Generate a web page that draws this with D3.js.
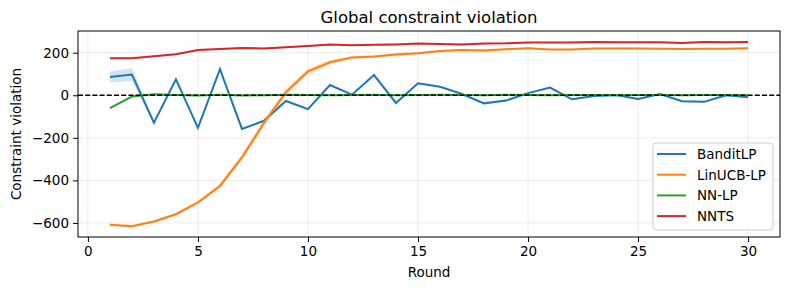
<!DOCTYPE html>
<html>
<head>
  <meta charset="utf-8">
  <title>Global constraint violation</title>
  <script src="https://cdn.jsdelivr.net/npm/d3@7/dist/d3.min.js"></script>
  <style>
    body { margin: 0; background: #fff; }
    text { font-family: "DejaVu Sans", sans-serif; fill: #000; }
  </style>
</head>
<body>
<script>
// rounds 1..30
var rounds = d3.range(1, 31);

var banditLP = [86, 97, -129, 75, -153, 123, -158, -120, -27, -65, 48, 3, 95, -36, 56,
                40, 6, -38, -25, 10, 36, -19, -3, 1, -17, 6, -28, -31, 0, -9];
var linucbLP = [-608, -615, -593, -559, -504, -426, -292, -130, 15, 112, 155, 178, 182, 191, 197,
                208, 213, 210, 216, 221, 215, 215, 220, 220, 220, 219, 218, 219, 219, 221];
var nnLP     = [-60, -6, 5, 1, -1, 2, -1, 0, 3, 1, 0, 1, 2, 0, 1,
                2, 1, 0, 2, 1, 0, 1, 1, 0, 1, 1, 0, 1, 1, 0];
var nnts     = [174, 174, 183, 193, 213, 217, 222, 220, 226, 232, 238, 235, 237, 239, 243,
                241, 239, 243, 244, 248, 248, 248, 250, 249, 249, 249, 246, 250, 249, 250];

// half-widths of the shaded bands
var banditCI = [26, 30, 8, 5, 5, 5, 5, 5, 5, 5, 4, 4, 4, 4, 4, 4, 4, 4, 4, 4, 4, 4, 4, 4, 4, 4, 4, 4, 4, 4];
var linucbCI = [6, 6, 6, 7, 9, 13, 16, 18, 18, 15, 12, 8, 6, 6, 5, 5, 5, 5, 5, 5, 4, 4, 4, 4, 4, 4, 4, 4, 4, 4];
var nnCI     = [4, 3, 3, 3, 3, 3, 3, 3, 3, 3, 3, 3, 3, 3, 3, 3, 3, 3, 3, 3, 3, 3, 3, 3, 3, 3, 3, 3, 3, 3];
var nntsCI   = [4, 4, 4, 4, 4, 4, 4, 4, 4, 4, 4, 4, 4, 4, 4, 4, 4, 4, 4, 4, 4, 4, 4, 4, 4, 4, 4, 4, 4, 4];

var xTicks = [0, 5, 10, 15, 20, 25, 30];
var yTicks = [-600, -400, -200, 0, 200];

var series = [
  {name: "BanditLP",  values: banditLP, ci: banditCI, color: "#1f77b4"},
  {name: "LinUCB-LP", values: linucbLP, ci: linucbCI, color: "#ff7f0e"},
  {name: "NN-LP",     values: nnLP,     ci: nnCI,     color: "#2ca02c"},
  {name: "NNTS",      values: nnts,     ci: nntsCI,   color: "#d62728"}
];

var W = 789, H = 290;
var m = {left: 78, right: 9, top: 31, bottom: 53};

var svg = d3.select("body").append("svg")
    .attr("width", W).attr("height", H);

var x = d3.scaleLinear().domain([-0.45, 31.45]).range([m.left, W - m.right]);
var y = d3.scaleLinear().domain([-666, 302]).range([H - m.bottom, m.top]);

// grid
var grid = svg.append("g");
grid.selectAll("line.gx").data(xTicks).enter().append("line")
    .attr("x1", d => x(d)).attr("x2", d => x(d))
    .attr("y1", m.top).attr("y2", H - m.bottom)
    .attr("stroke", "#b0b0b0").attr("stroke-opacity", 0.3).attr("stroke-width", 0.8);
grid.selectAll("line.gy").data(yTicks).enter().append("line")
    .attr("x1", m.left).attr("x2", W - m.right)
    .attr("y1", d => y(d)).attr("y2", d => y(d))
    .attr("stroke", "#b0b0b0").attr("stroke-opacity", 0.3).attr("stroke-width", 0.8);

var plot = svg.append("g");

var area = d3.area()
    .x((d, i) => x(rounds[i]))
    .y0(d => y(d[0] - d[1]))
    .y1(d => y(d[0] + d[1]));
var line = d3.line()
    .x((d, i) => x(rounds[i]))
    .y(d => y(d));

series.forEach(function(s) {
  plot.append("path")
      .datum(s.values.map((v, i) => [v, s.ci[i]]))
      .attr("d", area)
      .attr("fill", s.color).attr("fill-opacity", 0.2);
  plot.append("path")
      .datum(s.values)
      .attr("d", line)
      .attr("fill", "none")
      .attr("stroke", s.color).attr("stroke-width", 2);
});

// zero line
plot.append("line")
    .attr("x1", m.left).attr("x2", W - m.right)
    .attr("y1", y(0)).attr("y2", y(0))
    .attr("stroke", "#000").attr("stroke-width", 1.3)
    .attr("stroke-dasharray", "5,2.2");

// frame
svg.append("rect")
    .attr("x", m.left).attr("y", m.top)
    .attr("width", W - m.left - m.right).attr("height", H - m.top - m.bottom)
    .attr("fill", "none").attr("stroke", "#000").attr("stroke-width", 1);

// axes
var xAxis = svg.append("g")
    .attr("transform", "translate(0," + (H - m.bottom) + ")")
    .call(d3.axisBottom(x).tickValues(xTicks).tickSize(5).tickPadding(4));
var yAxis = svg.append("g")
    .attr("transform", "translate(" + m.left + ",0)")
    .call(d3.axisLeft(y).tickValues(yTicks).tickSize(5).tickPadding(4)
      .tickFormat(d => d < 0 ? "\u2212" + Math.abs(d) : d));
[xAxis, yAxis].forEach(function(a) {
  a.select(".domain").remove();
  a.selectAll("text").attr("font-size", 13.5).attr("font-family", "DejaVu Sans");
  a.selectAll("line").attr("stroke", "#000");
});

// title and labels
svg.append("text")
    .attr("x", (m.left + W - m.right) / 2).attr("y", 23)
    .attr("text-anchor", "middle").attr("font-size", 16.5)
    .text("Global constraint violation");
svg.append("text")
    .attr("x", (m.left + W - m.right) / 2).attr("y", 277)
    .attr("text-anchor", "middle").attr("font-size", 13.5)
    .text("Round");
svg.append("text")
    .attr("transform", "translate(21," + ((m.top + H - m.bottom) / 2) + ") rotate(-90)")
    .attr("text-anchor", "middle").attr("font-size", 13.5)
    .text("Constraint violation");

// legend
var lg = svg.append("g").attr("transform", "translate(653,143)");
lg.append("rect")
    .attr("width", 120).attr("height", 87).attr("rx", 3)
    .attr("fill", "#fff").attr("fill-opacity", 0.8)
    .attr("stroke", "#ccc").attr("stroke-width", 1);
var items = lg.selectAll("g.item").data(series).enter().append("g")
    .attr("transform", (d, i) => "translate(0," + (11 + i * 20.7) + ")");
items.append("line")
    .attr("x1", 4).attr("x2", 33)
    .attr("stroke", d => d.color).attr("stroke-width", 2);
items.append("text")
    .attr("x", 44).attr("y", 5)
    .attr("font-size", 13.5)
    .text(d => d.name);
</script>
</body>
</html>
